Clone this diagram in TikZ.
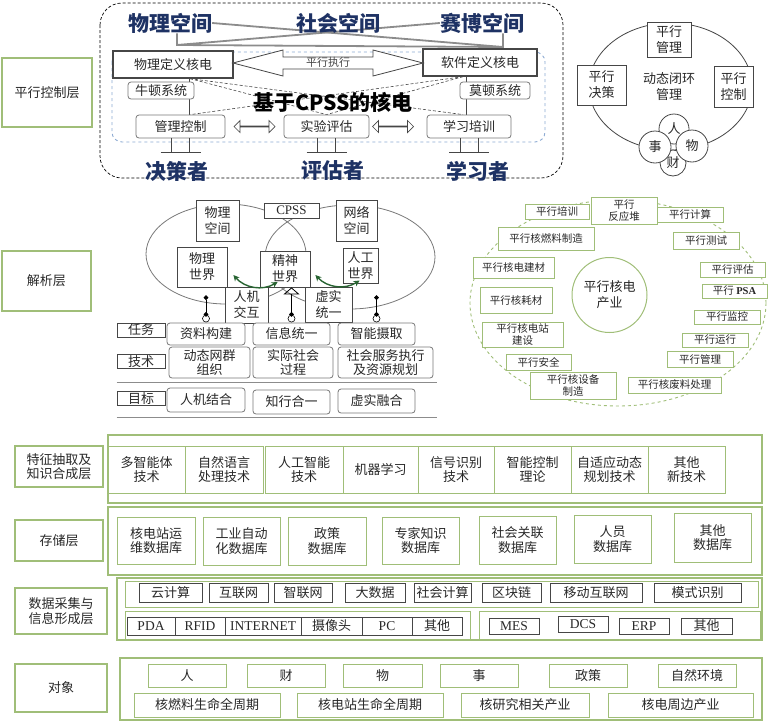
\documentclass[tikz,border=0pt]{standalone}
\usepackage{fontspec}
\setmainfont{Noto Sans CJK SC}
\newfontfamily\lat{Liberation Serif}
\usepackage{xcolor}
\usepackage{tikz}
\usetikzlibrary{shapes.geometric, shapes.arrows, arrows, arrows.meta, calc, backgrounds}

\definecolor{grn}{RGB}{160,190,120}
\definecolor{dgray}{RGB}{70,70,70}
\definecolor{mgray}{RGB}{120,120,120}
\definecolor{lgray}{RGB}{140,140,140}
\definecolor{navy}{RGB}{30,50,100}
\definecolor{lblue}{RGB}{140,170,210}
\definecolor{dgreen}{RGB}{40,100,50}
\definecolor{ink}{RGB}{40,40,40}

\begin{document}
\begin{tikzpicture}[x=1pt, y=-1pt, >=stealth, font=\fontsize{13}{16}\selectfont, text=ink]
\tikzset{
  wh/.style 2 args = {minimum width=#1, minimum height=#2},
  lyr/.style = {rectangle, draw=grn, line width=1.3pt, fill=white, inner sep=1pt, align=center},
  group/.style = {rectangle, draw=grn, line width=1.3pt, inner sep=0pt},
  gbox/.style = {rectangle, draw=grn, line width=1pt, fill=white, inner sep=1pt, align=center},
  pbox/.style = {gbox, font=\fontsize{10.5}{12}\selectfont},
  dbox/.style = {rectangle, draw=dgray, line width=1pt, fill=white, inner sep=1pt, align=center},
  sbox/.style = {rectangle, draw=dgray, line width=0.8pt, fill=white, inner sep=1pt, align=center},
  rbox/.style = {rectangle, rounded corners=3pt, draw=mgray, line width=0.8pt, fill=white, inner sep=1pt, align=center},
  tight/.style = {font=\fontsize{13}{14.5}\selectfont},
  latin/.style = {font=\lat\fontsize{13.5}{15}\selectfont},
  title/.style = {text=navy, font=\fontsize{21}{24}\selectfont\bfseries, inner sep=0pt},
  bubble/.style = {circle, draw=dgray, line width=0.8pt, fill=white, inner sep=0pt},
  ring/.style = {circle, draw=black, line width=0.6pt, minimum size=7pt, inner sep=0pt},
  gline/.style = {draw=lgray, line width=1.8pt},
  line/.style = {draw=dgray, line width=0.8pt},
  xdash/.style = {draw=dgray, densely dashed, line width=0.6pt},
  harrow/.style = {double arrow, draw=dgray, line width=0.7pt, fill=white, minimum height=41pt,
    minimum width=12pt, double arrow head extend=3.5pt, inner sep=0pt},
  stem/.style = {draw=black, line width=0.8pt, shorten <=6pt},
  garrow/.style = {draw=dgreen, line width=1.4pt, {Stealth[length=6pt,width=6pt]}-{Stealth[length=6pt,width=6pt]}}
}
\useasboundingbox (0,0) rectangle (768,723);

% ---- parallel control layer
\node[lyr, wh={90}{69}] (pxkz) at (47,92.5) {平行控制层};
\draw[densely dashed, line width=0.7pt, rounded corners=22pt] (100,3) rectangle (563,178);
\draw[dashed, draw=lblue, line width=0.9pt, rounded corners=10pt] (112,52) rectangle (545,142);
\node[title] (wlkj) at (170,23) {物理空间};
\node[title] (shkj) at (338,23) {社会空间};
\node[title] (sbkj) at (482,23) {赛博空间};
\node[dbox, wh={120}{27}, line width=1.3pt] (wldy) at (173,64.5) {物理定义核电};
\node[dbox, wh={114}{27}, line width=1.3pt] (rjdy) at (480,62.5) {软件定义核电};
\draw[line, fill=white] (233,63) -- (283,50) -- (283,57) -- (373,57) -- (373,50) -- (423,63)
  -- (373,76) -- (373,69) -- (283,69) -- (283,76) -- cycle;
\node[font=\fontsize{11}{12}\selectfont, text=dgray, inner sep=0pt] (pxzx) at (328,62.5) {平行执行};
\node[rbox, wh={66}{17}] (ndxt) at (161,90.5) {牛顿系统};
\node[rbox, wh={70}{17}] (mdxt) at (495,90.5) {莫顿系统};
\node[font=\fontsize{21}{24}\selectfont\bfseries, text=black, inner sep=0pt] (cpsshd) at (333,102) {基于CPSS的核电};
\node[rbox, wh={89}{23}] (glkz) at (180.5,126.5) {管理控制};
\node[rbox, wh={85}{23}] (sypg) at (326.5,126.5) {实验评估};
\node[rbox, wh={84}{23}] (xxpx) at (469,126.5) {学习培训};
\node[title] (jcz) at (177,171) {决策者};
\node[title] (pgz) at (333,171) {评估者};
\node[title] (xxz) at (478,171) {学习者};
\node[harrow] (ha) at ($(glkz.east)!0.5!(sypg.west)$) {};
\node[harrow] (hb) at ($(sypg.east)!0.5!(xxpx.west)+(-5,0)$) {};
\foreach \nm in {glkz, sypg, xxpx} {
  \draw[line] ($(\nm.south)+(-9,0)$) -- ++(0,14) ($(\nm.south)+(9,0)$) -- ++(0,14)
    ($(\nm.south)+(-20,14)$) -- ++(40,0);
}
\begin{scope}[on background layer]
  \coordinate (pl) at (177,45);
  \coordinate (pr) at (503,47);
  \draw[gline] (wlkj.south -| pl) -- (pl) -- (pr) -- (sbkj.south -| pr);
  \draw[gline] (wlkj.east) -- (pr);
  \draw[gline] (pl) -- (sbkj.west);
  \draw[line] ($(wldy.south)+(16,0)$) coordinate (v1) -- (v1 |- glkz.north);
  \draw[line] ($(rjdy.south)+(-14,0)$) coordinate (v2) -- (v2 |- xxpx.north);
  \draw[xdash] ($(wldy.south)+(17,0)$) -- (sypg.north);
  \draw[xdash] ($(wldy.south)+(17,0)$) -- ($(xxpx.north)+(-6,0)$);
  \draw[xdash] ($(rjdy.south)+(-17,0)$) -- (sypg.north);
  \draw[xdash] ($(rjdy.south)+(-17,0)$) -- ($(glkz.north)+(10,0)$);
\end{scope}

% ---- closed loop
\draw[line] (670.5,86.5) ellipse [x radius=81.5pt, y radius=63.5pt];
\node[sbox, wh={44}{35}] (pxgl) at (669,39.5) {平行\\管理};
\node[sbox, wh={49}{40}] (pxjc) at (601.5,85) {平行\\决策};
\node[sbox, wh={39}{41}] (pxkzb) at (733.5,86.5) {平行\\控制};
\node[align=center] (dtbh) at (669,87) {动态闭环\\管理};
\node[bubble, minimum size=30pt] (ren) at (674,129) {人};
\node[bubble, minimum size=26pt] (cai) at (673,163) {财};
\node[bubble, minimum size=32pt] (shi) at (655,147) {事};
\node[bubble, minimum size=32pt] (wu) at (692,146) {物};

% ---- analysis layer
\node[lyr, wh={89}{60}] (jxc) at (46.5,281) {解析层};
\draw[line, draw=mgray] (226,254) ellipse [x radius=80pt, y radius=50pt];
\draw[line, draw=mgray] (350,257) ellipse [x radius=85pt, y radius=52pt];
\node[sbox, wh={43}{41}] (wlkjb) at (217.5,220.5) {物理\\空间};
\node[sbox, wh={55}{15}, font=\lat\fontsize{13}{14}\selectfont] (cpss) at (291.5,210.5) {CPSS};
\node[sbox, wh={41}{41}] (wlkjc) at (356.5,220.5) {网络\\空间};
\node[sbox, wh={50}{40}] (wlsj) at (202,267) {物理\\世界};
\node[sbox, wh={50}{36}] (jssj) at (285,269) {精神\\世界};
\node[sbox, wh={35}{35}] (rgsj) at (360.5,265.5) {人工\\世界};
\node[sbox, wh={43}{36}] (rjjh) at (246.5,305) {人机\\交互};
\node[sbox, wh={47}{35}] (xsty) at (328.5,304.5) {虚实\\统一};
\node[sbox, wh={48}{14}] (rw) at (141,330) {任务};
\node[sbox, wh={48}{13}] (js) at (141,361.5) {技术};
\node[sbox, wh={48}{13}] (mb) at (141,398.5) {目标};
\node[rbox, wh={78}{22}] (zlgj) at (206,334) {资料构建};
\node[rbox, wh={77}{22}] (xxty) at (291.5,334) {信息统一};
\node[rbox, wh={77}{22}] (znsq) at (376.5,334) {智能摄取};
\node[rbox, tight, wh={81}{31}] (dtwq) at (209.5,362.5) {动态网群\\组织};
\node[rbox, tight, wh={80}{31}] (sjsh) at (293,362.5) {实际社会\\过程};
\node[rbox, tight, wh={95}{31}] (shfw) at (385.5,362.5) {社会服务执行\\及资源规划};
\node[rbox, wh={78}{24}] (rjjhb) at (206,400) {人机结合};
\node[rbox, wh={77}{24}] (zxhy) at (291.5,402) {知行合一};
\node[rbox, wh={77}{24}] (xsrh) at (376.5,401) {虚实融合};
\begin{scope}[on background layer]
  \draw[line, draw=lgray] (rw.west |- 0,382) -- (437,382);
  \draw[line, draw=lgray] (rw.west |- 0,417) -- (437,417);
\end{scope}
\draw[stem, {Circle[length=4.5pt]}-{Circle[length=4.5pt]}, shorten >=8pt] (zlgj.north) -- (zlgj.north |- wlsj.south);
\draw[stem, {Circle[length=4.5pt]}-{Triangle[open, length=7pt, width=16pt]}] (xxty.north) -- (xxty.north |- jssj.south);
\draw[stem, {Circle[length=4.5pt]}-{Circle[length=4.5pt]}, shorten >=12pt] (znsq.north) -- (znsq.north |- rgsj.south);
\foreach \nm in {zlgj, xxty, znsq} \node[ring] at ($(\nm.north)+(0,-4)$) {};
\draw[garrow] ($(wlsj.east)+(6,8)$) to[bend right=40] ($(jssj.west)+(18,13)$);
\draw[garrow] ($(jssj.east)+(5,6)$) to[bend right=40] ($(rgsj.west)+(17,15)$);

% ---- parallel nuclear industry
\draw[grn, dashed, line width=0.9pt] (618,303) ellipse [x radius=148pt, y radius=103pt];
\node[circle, draw=grn, line width=1pt, minimum size=75pt, inner sep=0pt, align=center] (hdcy) at (609.5,295) {平行核电\\产业};
\node[pbox, wh={64}{15}] (pxpx) at (557,211.5) {平行培训};
\node[pbox, wh={66}{27}] (pxfyd) at (624,210.5) {平行\\反应堆};
\node[pbox, wh={66}{15}] (pxjs) at (690,214.5) {平行计算};
\node[pbox, wh={96}{23}] (pxrl) at (546,238.5) {平行核燃料制造};
\node[pbox, wh={66}{17}] (pxcs) at (706,240.5) {平行测试};
\node[pbox, wh={81}{21}] (pxjc2) at (513.5,267.5) {平行核电建材};
\node[pbox, wh={65}{15}] (pxpg) at (732.5,269.5) {平行评估};
\node[pbox, wh={65}{14}] (pxpsa) at (734.5,291) {平行 {\lat\bfseries PSA}};
\node[pbox, wh={72}{26}] (pxhc) at (516,300) {平行核耗材};
\node[pbox, wh={66}{14}] (pxjk) at (727,317) {平行监控};
\node[pbox, wh={81}{25}] (pxjs2) at (522.5,334.5) {平行核电站\\建设};
\node[pbox, wh={66}{14}] (pxyx) at (715,340) {平行运行};
\node[pbox, wh={65}{16}] (pxaq) at (538.5,362) {平行安全};
\node[pbox, wh={66}{16}] (pxgl2) at (700,359) {平行管理};
\node[pbox, wh={86}{27}] (pxsb) at (573,385.5) {平行核设备\\制造};
\node[pbox, wh={93}{16}] (pxfl) at (674.5,385) {平行核废料处理};

% ---- feature extraction layer
\node[lyr, wh={88}{41}, tight] (tzcq) at (59,466.5) {特征抽取及\\知识合成层};
\node[group, wh={654}{68}] (tzgrp) at (435,469) {};
\node[gbox, tight, wh={77}{47}] (dznt) at (146.5,469.5) {多智能体\\技术};
\node[gbox, tight, wh={78}{47}] (zryy) at (224,469.5) {自然语言\\处理技术};
\node[gbox, tight, wh={78}{47}] (rgzn) at (304,469.5) {人工智能\\技术};
\node[gbox, tight, wh={75}{47}] (jqxx) at (380.5,469.5) {机器学习};
\node[gbox, tight, wh={76}{47}] (xhsb) at (456,469.5) {信号识别\\技术};
\node[gbox, tight, wh={77}{47}] (znkz) at (532.5,469.5) {智能控制\\理论};
\node[gbox, tight, wh={77}{47}] (zsy) at (609.5,469.5) {自适应动态\\规划技术};
\node[gbox, tight, wh={77}{47}] (qtjs) at (686.5,469.5) {其他\\新技术};

% ---- storage layer
\node[lyr, wh={88}{41}] (ccc) at (59,540.5) {存储层};
\node[group, wh={654}{68}] (ccgrp) at (435,541) {};
\node[gbox, tight, wh={78}{47}] (hdz) at (156,540.5) {核电站运\\维数据库};
\node[gbox, tight, wh={77}{48}] (gyzd) at (241.5,541) {工业自动\\化数据库};
\node[gbox, tight, wh={78}{48}] (zcsj) at (327,541) {政策\\数据库};
\node[gbox, tight, wh={77}{47}] (zjzs) at (420.5,540.5) {专家知识\\数据库};
\node[gbox, tight, wh={77}{48}] (shgl) at (517.5,540) {社会关联\\数据库};
\node[gbox, tight, wh={77}{48}] (rysj) at (612.5,539) {人员\\数据库};
\node[gbox, tight, wh={77}{49}] (qtsj) at (712.5,537.5) {其他\\数据库};

% ---- data acquisition layer
\node[lyr, wh={92}{46}, tight] (sjcj) at (61,611) {数据采集与\\信息形成层};
\node[group, wh={645}{62}] (cjgrp) at (439.5,609) {};
\node[group, wh={633}{26}, line width=1pt] (cjrowa) at (441.5,594) {};
\node[group, wh={345}{28}, line width=1pt] (cjrowb) at (297.5,625) {};
\node[group, wh={281}{28}, line width=1pt] (cjrowc) at (619.5,625) {};
\node[dbox, wh={63}{19}] (yjs) at (170.5,592.5) {云计算};
\node[dbox, wh={59}{19}] (hlw) at (238.5,592.5) {互联网};
\node[dbox, wh={58}{19}] (zlw) at (303,592.5) {智联网};
\node[dbox, wh={60}{19}] (dsj) at (375,592.5) {大数据};
\node[dbox, wh={57}{19}] (shjs) at (442.5,592.5) {社会计算};
\node[dbox, wh={59}{19}] (qkl) at (511.5,592.5) {区块链};
\node[dbox, wh={92}{19}] (ydhl) at (596,592.5) {移动互联网};
\node[dbox, wh={87}{19}] (msbs) at (697.5,592.5) {模式识别};
\node[dbox, latin, wh={48}{18}] (pda) at (151,626) {PDA};
\node[dbox, latin, wh={50}{18}] (rfid) at (200,626) {RFID};
\node[dbox, latin, wh={76}{18}] (inet) at (263,626) {INTERNET};
\node[dbox, wh={61}{18}] (sxt) at (331.5,626) {摄像头};
\node[dbox, latin, wh={50}{18}] (pc) at (387,626) {PC};
\node[dbox, wh={50}{18}] (qta) at (437,626) {其他};
\node[dbox, latin, wh={50}{16}] (mes) at (514,626) {MES};
\node[dbox, latin, wh={50}{16}] (dcs) at (583,624.5) {DCS};
\node[dbox, latin, wh={50}{16}] (erp) at (644,626) {ERP};
\node[dbox, wh={51}{16}] (qtb) at (706.5,626) {其他};

% ---- object layer
\node[lyr, wh={92}{48}] (dx) at (61,688) {对象};
\node[group, wh={642}{62}] (dxgrp) at (441,689) {};
\node[gbox, wh={78}{23}] (oren) at (187,675.5) {人};
\node[gbox, wh={78}{23}] (ocai) at (286,675.5) {财};
\node[gbox, wh={79}{23}] (owu) at (382.5,675.5) {物};
\node[gbox, wh={78}{23}] (oshi) at (479,675.5) {事};
\node[gbox, wh={78}{23}] (ozc) at (588,675.5) {政策};
\node[gbox, wh={78}{23}] (ozr) at (697,675.5) {自然环境};
\node[gbox, wh={146}{24}] (hrl) at (207,705) {核燃料生命全周期};
\node[gbox, wh={146}{24}] (hdzs) at (370,705) {核电站生命全周期};
\node[gbox, wh={128}{24}] (hyj) at (525,705) {核研究相关产业};
\node[gbox, wh={145}{24}] (hdzb) at (680.5,705) {核电周边产业};
\end{tikzpicture}
\end{document}
